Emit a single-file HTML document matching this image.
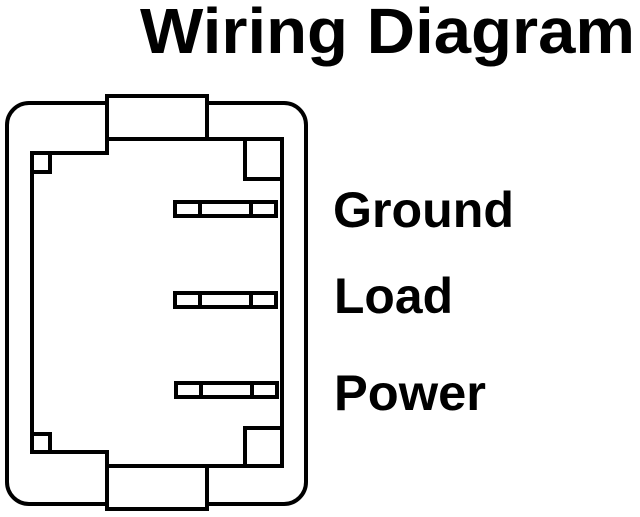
<!DOCTYPE html>
<html><head><meta charset="utf-8"><style>
html,body{margin:0;padding:0;background:#fff;width:640px;height:517px;overflow:hidden}
svg{display:block}
text{font-family:"Liberation Sans",Arial,sans-serif;font-weight:bold;fill:#000}
</style></head><body>
<svg width="640" height="517" viewBox="0 0 640 517" xmlns="http://www.w3.org/2000/svg">
<g fill="none" stroke="#000" stroke-width="4" stroke-linejoin="miter">
<rect x="7" y="103" width="299" height="401" rx="22" ry="22"/>
<rect x="107" y="96" width="100" height="43" fill="#fff"/>
<rect x="107" y="466" width="100" height="43" fill="#fff"/>
<path d="M107 139 H282 V466 H107 V452 H32 V153 H107 Z" fill="#fff"/>
<rect x="32" y="153" width="18" height="19"/>
<rect x="245" y="139" width="37" height="40"/>
<rect x="32" y="434" width="18" height="18"/>
<rect x="245" y="428" width="37" height="38"/>
<g>
<rect x="175" y="202" width="101" height="14"/>
<line x1="200" y1="202" x2="200" y2="216"/><line x1="251" y1="202" x2="251" y2="216"/>
<rect x="175" y="293" width="101" height="14"/>
<line x1="200" y1="293" x2="200" y2="307"/><line x1="251" y1="293" x2="251" y2="307"/>
<rect x="176" y="383" width="101" height="14"/>
<line x1="201" y1="383" x2="201" y2="397"/><line x1="252" y1="383" x2="252" y2="397"/>
</g>
</g>
<text x="140" y="53" font-size="64" textLength="495" lengthAdjust="spacingAndGlyphs">Wiring Diagram</text>
<text x="333" y="227" font-size="50" textLength="181" lengthAdjust="spacingAndGlyphs">Ground</text>
<text x="334" y="313" font-size="50" textLength="119" lengthAdjust="spacingAndGlyphs">Load</text>
<text x="334" y="410" font-size="50" textLength="152" lengthAdjust="spacingAndGlyphs">Power</text>
</svg>
</body></html>
